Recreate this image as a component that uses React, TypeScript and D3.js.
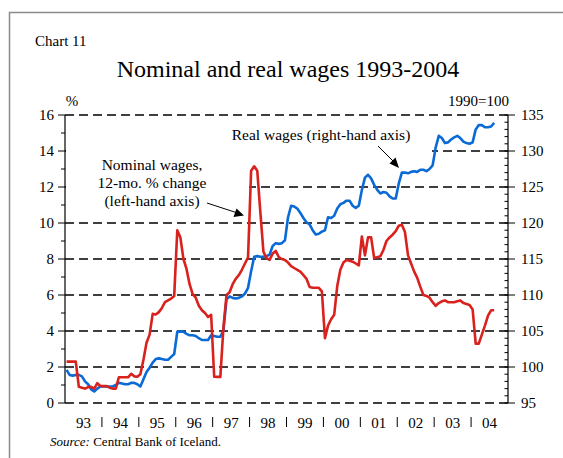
import React from 'react';
import * as d3 from 'd3';

// monthly, Jan 1993 - Aug 2004
const nominalWages = [
  2.3, 2.3, 2.3, 2.3, 0.9, 0.85, 0.8, 0.88, 0.9, 0.8, 1.1, 0.95,
  0.94, 0.94, 0.85, 0.8, 0.8, 1.43, 1.43, 1.43, 1.43, 1.62, 1.48, 1.46,
  1.6, 2.4, 3.35, 3.8, 4.95, 4.92, 5.05, 5.28, 5.6, 5.7, 5.8, 5.95,
  9.6, 9.2, 8.0, 7.45, 6.6, 6.05, 5.85, 5.4, 5.15, 5.0, 4.78, 4.9,
  1.46, 1.45, 1.45, 4.2, 6.0, 6.15, 6.6, 6.9, 7.1, 7.4, 7.75, 8.1,
  12.9, 13.15, 12.9, 10.6, 8.4, 8.05, 7.95, 8.3, 8.45, 8.1, 8.0, 7.95,
  7.8, 7.6, 7.5, 7.4, 7.3, 7.1, 6.9, 6.45, 6.4, 6.4, 6.4, 6.2,
  3.6, 4.3, 4.65, 4.9, 6.5, 7.4, 7.8, 7.95, 7.9, 7.85, 7.75, 7.65,
  9.25, 8.2, 9.2, 9.2, 8.05, 8.1, 8.15, 8.5, 9.0, 9.2, 9.35, 9.55,
  9.85, 9.9, 9.5, 8.2, 7.75, 7.3, 6.95, 6.45, 6.0, 5.95, 5.85, 5.6,
  5.4, 5.55, 5.65, 5.7, 5.6, 5.6, 5.6, 5.65, 5.7, 5.55, 5.5, 5.45,
  5.2, 3.3, 3.3, 3.8, 4.3, 4.85, 5.15, 5.15
];

const realWages = [
  99.6, 98.9, 98.8, 98.9, 98.9, 98.7, 98.0, 97.6, 96.9, 96.6, 97.0, 97.3,
  97.3, 97.3, 97.3, 97.3, 97.5, 97.8, 97.7, 97.6, 97.6, 97.8, 97.8, 97.6,
  97.3, 98.3, 99.3, 99.9, 100.6, 101.1, 101.2, 101.1, 101.0, 101.0, 101.4, 101.8,
  104.9, 104.95, 104.9, 104.6, 104.4, 104.4, 104.3, 104.0, 103.75, 103.75, 103.75, 104.4,
  104.3, 104.2, 104.2, 105.1, 109.4, 109.8, 109.6, 109.5, 109.6, 109.8, 110.2, 111.0,
  113.3, 115.3, 115.4, 115.3, 115.3, 115.4, 115.6, 116.8, 117.2, 117.1, 117.2, 117.6,
  120.8, 122.4, 122.3, 122.0, 121.4, 120.7, 120.1, 119.8, 119.0, 118.4, 118.5, 118.8,
  119.0, 120.8, 120.7, 121.0, 122.0, 122.6, 122.8, 123.1, 123.1, 122.4, 122.1, 122.4,
  124.6, 126.3, 126.7, 126.2, 125.3, 124.6, 124.1, 124.3, 124.2, 123.7, 123.4, 123.4,
  125.5, 127.0, 127.0, 126.9, 127.1, 127.2, 127.1, 127.4, 127.4, 127.2, 127.5, 128.0,
  130.5, 132.1, 131.8, 131.1, 131.2, 131.6, 131.9, 132.1, 131.8, 131.3, 131.1, 131.0,
  131.2, 133.0, 133.6, 133.6, 133.3, 133.3, 133.4, 133.9
];

const yearLabels = ['93', '94', '95', '96', '97', '98', '99', '00', '01', '02', '03', '04'];
const leftTicks = [0, 2, 4, 6, 8, 10, 12, 14, 16];
const rightTicks = [95, 100, 105, 110, 115, 120, 125, 130, 135];

const W = 563;
const H = 458;
const serif = '"Liberation Serif", "Times New Roman", serif';

export default function App() {
  const left = 65, right = 508, top = 115, bottom = 403;

  const x = d3.scaleLinear().domain([0, 144]).range([left, right]);
  const yL = d3.scaleLinear().domain([0, 16]).range([bottom, top]);
  const yR = d3.scaleLinear().domain([95, 135]).range([bottom, top]);

  const redLine = d3.line<number>()
    .x((d, i) => x(i + 0.5))
    .y(d => yL(d));
  const blueLine = d3.line<number>()
    .x((d, i) => x(i + 0.5))
    .y(d => yR(d));

  const minorLeft = d3.range(0, 17);
  const minorRight = d3.range(95, 136);

  return (
    <svg width={W} height={H} style={{ position: 'absolute', left: 0, top: 0, fontFamily: serif }}>
      <rect x={0} y={0} width={W} height={H} fill="#fff" />
      <rect x={9.5} y={12.5} width={640} height={520} fill="none" stroke="#8a8a8a" strokeWidth={1.5} />

      <text x={35} y={46} fontSize={15}>Chart 11</text>
      <text x={288} y={77} fontSize={24} textAnchor="middle">Nominal and real wages 1993-2004</text>
      <text x={72} y={106} fontSize={15} textAnchor="middle">%</text>
      <text x={509} y={106} fontSize={15} textAnchor="end">1990=100</text>

      {/* grid */}
      {leftTicks.map(t => (
        <line key={'g' + t} x1={left} x2={right} y1={yL(t)} y2={yL(t)}
          stroke="#000" strokeWidth={1.4} strokeDasharray="9,5" />
      ))}

      {/* label boxes hide the grid behind the notes */}
      <rect x={left + 1} y={132} width={183} height={84} fill="#fff" />
      <rect x={249} y={124} width={183} height={36} fill="#fff" />

      {/* left axis */}
      <line x1={left} x2={left} y1={top} y2={bottom} stroke="#000" strokeWidth={1.2} />
      {minorLeft.map(t => (
        <line key={'ml' + t} x1={t % 2 === 0 ? left - 7 : left - 4} x2={left}
          y1={yL(t)} y2={yL(t)} stroke="#000" strokeWidth={1} />
      ))}
      {leftTicks.map(t => (
        <text key={'lt' + t} x={left - 11} y={yL(t)} dy="0.35em" fontSize={15} textAnchor="end">{t}</text>
      ))}

      {/* right axis */}
      <line x1={right} x2={right} y1={top} y2={bottom} stroke="#000" strokeWidth={1.2} />
      {minorRight.map(t => (
        <line key={'mr' + t} x1={right - 3.5} x2={right} y1={yR(t)} y2={yR(t)} stroke="#000" strokeWidth={1} />
      ))}
      {rightTicks.map(t => (
        <g key={'rt' + t}>
          <line x1={right} x2={right + 7} y1={yR(t)} y2={yR(t)} stroke="#000" strokeWidth={1} />
          <text x={right + 13} y={yR(t)} dy="0.35em" fontSize={15}>{t}</text>
        </g>
      ))}

      {/* year labels */}
      {yearLabels.map((yl, k) => (
        <text key={yl} x={x(12 * k + 6)} y={428} fontSize={15} textAnchor="middle">{yl}</text>
      ))}
      {yearLabels.slice(1).map((yl, k) => (
        <line key={'s' + yl} x1={x(12 * (k + 1))} x2={x(12 * (k + 1))} y1={417} y2={427}
          stroke="#000" strokeWidth={1} />
      ))}

      {/* series */}
      <path d={blueLine(realWages) || ''} fill="none" stroke="#0a6ad6" strokeWidth={2.6} strokeLinejoin="round" />
      <path d={redLine(nominalWages) || ''} fill="none" stroke="#d9211d" strokeWidth={2.6} strokeLinejoin="round" />

      {/* annotations */}
      <g fontSize={15.5} textAnchor="middle">
        <text x={152} y={170}>Nominal wages,</text>
        <text x={152} y={188}>12-mo. % change</text>
        <text x={152} y={206}>(left-hand axis)</text>
        <text x={321} y={140}>Real wages (right-hand axis)</text>
      </g>
      <line x1={207} y1={203} x2={236} y2={212.5} stroke="#000" strokeWidth={1} />
      <path d="M244,215.5 L233.5,217 L236.5,208.5 Z" fill="#000" />
      <line x1={378} y1={146} x2={393} y2={161} stroke="#000" strokeWidth={1} />
      <path d="M399,168 L389.5,163.5 L395.5,157.5 Z" fill="#000" />

      <text x={50} y={446} fontSize={13}>
        <tspan fontStyle="italic">Source:</tspan> Central Bank of Iceland.
      </text>
    </svg>
  );
}
